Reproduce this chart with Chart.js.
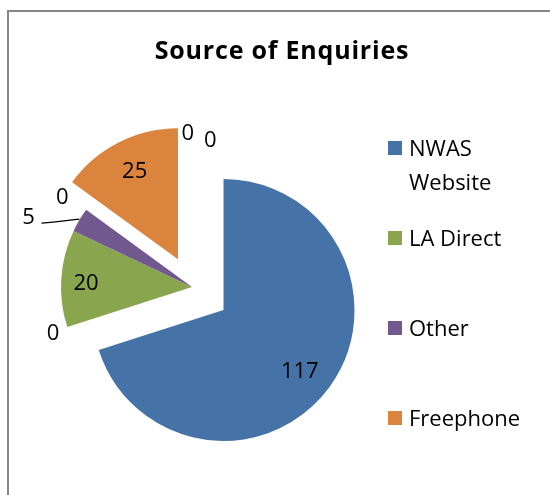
<!DOCTYPE html>
<html>
<head>
<meta charset="utf-8">
<script src="https://cdn.jsdelivr.net/npm/chart.js@4/dist/chart.umd.min.js"></script>
<style>
  html, body { margin: 0; padding: 0; background: #ffffff; }
  #wrap { position: relative; width: 550px; height: 495px; }
  canvas { display: block; }
</style>
</head>
<body>
<div id="wrap"><canvas id="c" width="550" height="495"></canvas></div>
<script>
// ---- data ----
const chartTitle = 'Source of Enquiries';
const categories = ['NWAS Website', '', 'LA Direct', 'Other', '', 'Freephone', '', ''];
const enquiries  = [117, 0, 20, 5, 0, 25, 0, 0];

// ---- styles ----
const sliceColors = ['#4572A7', '#4572A7', '#89A54E', '#71588F', '#71588F', '#DB843D', '#DB843D', '#DB843D'];
const explodeDistance = [39, 0, 0, 0, 0, 31, 0, 0];   // px each slice is pulled out along its mid-angle
// label placement: radius factor (of outer radius) and angular nudge in degrees
const labelPlace = [
  {f: 0.74, da: 2},
  {f: 1.115, da: 0},
  {f: 0.81, da: -1},
  {f: 1.36, da: -7.3, leader: true},
  {f: 1.21, da: -1},
  {f: 0.755, da: 1},
  {f: 1.18, da: -1.6},
  {f: 1.14, da: 7}
];
const FONT = '"Open Sans", "DejaVu Sans", sans-serif';
const PIE_RADIUS = 131;

function sliceShift(arc, i) {
  const p = arc.getProps(['startAngle', 'endAngle'], true);
  const mid = (p.startAngle + p.endAngle) / 2;
  return {dx: Math.cos(mid) * explodeDistance[i], dy: Math.sin(mid) * explodeDistance[i], mid};
}

const framePlugin = {
  id: 'frame',
  beforeDraw(chart) {
    const ctx = chart.ctx;
    ctx.save();
    ctx.strokeStyle = '#868686';
    ctx.lineWidth = 2;
    ctx.beginPath();
    ctx.moveTo(8, 500);
    ctx.lineTo(8, 11);
    ctx.lineTo(560, 11);
    ctx.stroke();
    ctx.restore();
  }
};

// draw library arc elements, each translated outward by its explode distance
const explodePlugin = {
  id: 'explode',
  beforeDatasetDraw(chart, args) {
    const ctx = chart.ctx;
    const meta = args.meta;
    meta.data.forEach((arc, i) => {
      const s = sliceShift(arc, i);
      ctx.save();
      ctx.translate(s.dx, s.dy);
      arc.draw(ctx, chart.chartArea);
      ctx.restore();
    });
    return false;
  }
};

const titlePlugin = {
  id: 'customTitle',
  afterDraw(chart) {
    const ctx = chart.ctx;
    ctx.save();
    ctx.font = 'bold 25px ' + FONT;
    ctx.letterSpacing = '0.8px';
    ctx.fillStyle = '#000';
    ctx.textAlign = 'center';
    ctx.textBaseline = 'alphabetic';
    ctx.fillText(chartTitle, 282, 59);
    ctx.restore();
  }
};

const legendPlugin = {
  id: 'customLegend',
  afterDraw(chart) {
    const ctx = chart.ctx;
    ctx.save();
    ctx.font = '22px ' + FONT;
    ctx.fillStyle = '#000';
    ctx.textBaseline = 'alphabetic';
    let row = 0;
    categories.forEach((name, i) => {
      if (!name) return;
      const y = 148 + row * 90;
      ctx.fillStyle = sliceColors[i];
      ctx.fillRect(388, y - 7, 14, 14);
      ctx.fillStyle = '#000';
      const words = name.split(' ');
      const lines = [];
      let cur = '';
      words.forEach(w => {
        const t = cur ? cur + ' ' + w : w;
        if (ctx.measureText(t).width > 125 && cur) { lines.push(cur); cur = w; } else cur = t;
      });
      lines.push(cur);
      lines.forEach((ln, k) => ctx.fillText(ln, 409, y + 8 + k * 34));
      row++;
    });
    ctx.restore();
  }
};

const labelPlugin = {
  id: 'sliceLabels',
  afterDatasetsDraw(chart) {
    const ctx = chart.ctx;
    const meta = chart.getDatasetMeta(0);
    ctx.save();
    ctx.font = '22px ' + FONT;
    ctx.fillStyle = '#000';
    ctx.textAlign = 'center';
    ctx.textBaseline = 'alphabetic';
    meta.data.forEach((arc, i) => {
      const p = arc.getProps(['x', 'y', 'outerRadius'], true);
      const s = sliceShift(arc, i);
      const cx = p.x + s.dx;
      const cy = p.y + s.dy;
      const lp = labelPlace[i];
      const a = s.mid + lp.da * Math.PI / 180;
      const r = p.outerRadius * lp.f;
      const lx = cx + Math.cos(a) * r;
      const ly = cy + Math.sin(a) * r;
      if (lp.leader) {
        const ex = cx + Math.cos(s.mid) * p.outerRadius;
        const ey = cy + Math.sin(s.mid) * p.outerRadius;
        ctx.beginPath();
        ctx.strokeStyle = '#000';
        ctx.lineWidth = 1.3;
        ctx.moveTo(lx + 13, ly + 7);
        ctx.quadraticCurveTo(lx + 24, ly + 6, ex - 5, ey - 0.5);
        ctx.lineTo(ex, ey - 1);
        ctx.stroke();
      }
      ctx.fillText(String(enquiries[i]), lx, ly + 8);
    });
    ctx.restore();
  }
};

new Chart(document.getElementById('c'), {
  type: 'pie',
  data: {
    labels: categories,
    datasets: [{
      data: enquiries,
      backgroundColor: sliceColors,
      borderWidth: 0,
      hoverOffset: 0
    }]
  },
  options: {
    responsive: false,
    animation: false,
    devicePixelRatio: 1,
    radius: PIE_RADIUS,
    layout: { padding: { left: 0, right: 166, top: 100, bottom: 21 } },
    plugins: {
      legend: { display: false },
      title: { display: false },
      tooltip: { enabled: false }
    },
    events: []
  },
  plugins: [framePlugin, explodePlugin, titlePlugin, legendPlugin, labelPlugin]
});
</script>
</body>
</html>
